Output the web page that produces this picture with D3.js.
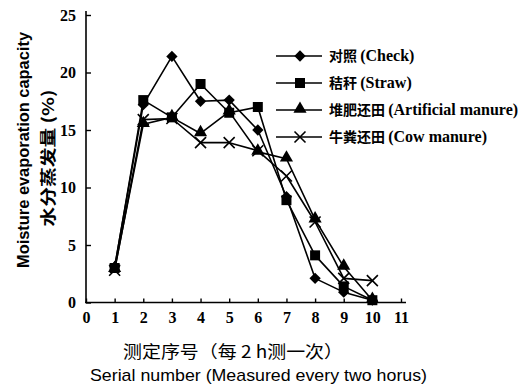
<!DOCTYPE html>
<html>
<head>
<meta charset="utf-8">
<script src="https://cdn.jsdelivr.net/npm/d3@7"></script>
<style>
  html, body { margin: 0; padding: 0; background: #fff; }
  svg { display: block; }
  .tick text { font-family: "Liberation Serif", "DejaVu Serif", serif; font-weight: bold; font-size: 16px; fill: #000; }
</style>
</head>
<body>
<svg id="chart" width="522" height="387"></svg>
<script>
// Measurement sequence (one reading every 2 h)
const serial = [1, 2, 3, 4, 5, 6, 7, 8, 9, 10];

// Moisture evaporation capacity (%) for each treatment
const checkVals      = [3.1, 17.2, 21.4, 17.5, 17.6, 15.0, 9.2, 2.1, 0.9, 0.2];
const strawVals      = [3.0, 17.6, 16.1, 19.0, 16.5, 17.0, 8.9, 4.1, 1.4, 0.2];
const artificialVals = [2.9, 15.5, 16.1, 14.7, 16.6, 13.1, 12.5, 7.2, 3.1, 0.2];
const cowVals        = [2.8, 15.9, 16.0, 13.9, 13.9, 13.2, 11.0, 7.0, 2.1, 1.9];

const seriesNames = ["对照 (Check)", "秸秆 (Straw)", "堆肥还田 (Artificial manure)", "牛粪还田 (Cow manure)"];
const seriesMarks = ["diamond", "square", "triangle", "cross"];

const xTicks = [0, 1, 2, 3, 4, 5, 6, 7, 8, 9, 10, 11];
const yTicks = [0, 5, 10, 15, 20, 25];

const series = [checkVals, strawVals, artificialVals, cowVals].map((vals, i) => ({
  name: seriesNames[i],
  mark: seriesMarks[i],
  points: serial.map((s, j) => ({ x: s, y: vals[j] }))
}));

const svg = d3.select("#chart");

const x = d3.scaleLinear().domain([0, 11]).range([86, 401]);
const y = d3.scaleLinear().domain([0, 25]).range([302.5, 15]);

// Axis lines
svg.append("line").attr("x1", 86).attr("x2", 86).attr("y1", 11).attr("y2", 302.5)
  .attr("stroke", "#000").attr("stroke-width", 1.6);
svg.append("line").attr("x1", 85).attr("x2", 406).attr("y1", 302.5).attr("y2", 302.5)
  .attr("stroke", "#000").attr("stroke-width", 1.6);

// Y axis: inward ticks, labels on the left
const yAxis = svg.append("g").attr("transform", "translate(86,0)")
  .call(d3.axisLeft(y).tickValues(yTicks).tickFormat(d3.format("d")).tickSizeInner(-5).tickSizeOuter(0).tickPadding(10));
yAxis.select(".domain").remove();
yAxis.selectAll(".tick line").attr("stroke", "#000").attr("stroke-width", 1.4);

// X axis: inward ticks, labels below
const xAxis = svg.append("g").attr("transform", "translate(0,302.5)")
  .call(d3.axisBottom(x).tickValues(xTicks).tickFormat(d3.format("d")).tickSizeInner(-4).tickSizeOuter(0).tickPadding(9));
xAxis.select(".domain").remove();
xAxis.selectAll(".tick line").attr("stroke", "#000").attr("stroke-width", 1.4);

// Marker drawing
function drawMarker(g, type, cx, cy) {
  if (type === "diamond") {
    g.append("path").attr("d", d3.symbol().type(d3.symbolSquare).size(64)())
      .attr("transform", `translate(${cx},${cy}) rotate(45)`).attr("fill", "#000");
  } else if (type === "square") {
    g.append("path").attr("d", d3.symbol().type(d3.symbolSquare).size(100)())
      .attr("transform", `translate(${cx},${cy})`).attr("fill", "#000");
  } else if (type === "triangle") {
    g.append("path").attr("d", d3.symbol().type(d3.symbolTriangle).size(75)())
      .attr("transform", `translate(${cx},${cy - 1})`).attr("fill", "#000");
  } else {
    const r = 5.5;
    g.append("path").attr("d", `M${-r},${-r}L${r},${r}M${-r},${r}L${r},${-r}`)
      .attr("transform", `translate(${cx},${cy})`).attr("stroke", "#000").attr("stroke-width", 1.6).attr("fill", "none");
  }
}

const line = d3.line().x(d => x(d.x)).y(d => y(d.y));
const plot = svg.append("g");

series.forEach(s => {
  plot.append("path").datum(s.points).attr("d", line)
    .attr("fill", "none").attr("stroke", "#000").attr("stroke-width", 1.6).attr("stroke-linejoin", "round");
});
series.forEach(s => {
  const g = plot.append("g");
  s.points.forEach(p => drawMarker(g, s.mark, x(p.x), y(p.y)));
});

// Legend
const legendY = [56, 83, 110, 137];
series.forEach((s, i) => {
  const g = svg.append("g");
  const ly = legendY[i];
  g.append("line").attr("x1", 276).attr("x2", 322).attr("y1", ly).attr("y2", ly)
    .attr("stroke", "#000").attr("stroke-width", 1.6);
  drawMarker(g, s.mark, 300, ly);
  const parts = s.name.split(" (");
  const t = g.append("text").attr("x", 329).attr("y", ly + 5).attr("fill", "#000");
  t.append("tspan").attr("font-family", "'Noto Sans CJK SC', sans-serif").attr("font-weight", "bold")
    .attr("font-size", 14).text(parts[0] + " ");
  t.append("tspan").attr("font-family", "'Liberation Serif', serif").attr("font-weight", "bold")
    .attr("font-size", 16).text("(" + parts[1]);
});

// Y axis titles
svg.append("text")
  .attr("transform", "translate(29,150) rotate(-90)")
  .attr("text-anchor", "middle")
  .attr("font-family", "'Liberation Sans Narrow', 'Liberation Sans', sans-serif")
  .attr("font-weight", "bold").attr("font-size", 17)
  .attr("textLength", 236).attr("lengthAdjust", "spacingAndGlyphs")
  .text("Moisture evaporation capacity");
svg.append("text")
  .attr("transform", "translate(54,158) rotate(-90)")
  .attr("text-anchor", "middle")
  .attr("font-family", "'Noto Sans CJK SC', sans-serif")
  .attr("font-weight", "bold").attr("font-size", 16)
  .attr("textLength", 137).attr("lengthAdjust", "spacingAndGlyphs")
  .text("水分蒸发量 (%)");

// X axis titles
svg.append("text")
  .attr("x", 123).attr("y", 358)
  .attr("font-family", "'Noto Sans CJK SC', sans-serif")
  .attr("font-size", 17)
  .attr("textLength", 220).attr("lengthAdjust", "spacingAndGlyphs")
  .text("测定序号（每 2 h测一次）");
svg.append("text")
  .attr("x", 90).attr("y", 381)
  .attr("font-family", "'Liberation Sans Narrow', 'Liberation Sans', sans-serif")
  .attr("font-size", 17)
  .attr("textLength", 337).attr("lengthAdjust", "spacingAndGlyphs")
  .text("Serial  number (Measured every two horus)");
</script>
</body>
</html>
